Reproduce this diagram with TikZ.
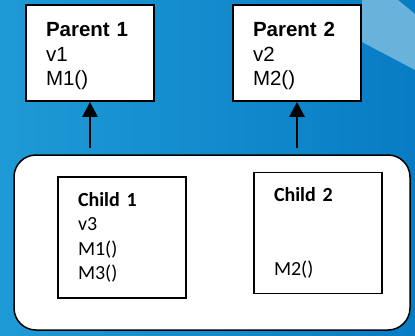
\documentclass[tikz,border=0pt]{standalone}
\usepackage{fontspec}
\newfontfamily\arialfont{Liberation Sans}
\newfontfamily\calibrifont{Carlito}
\usetikzlibrary{arrows.meta}
\definecolor{slideblue}{RGB}{30,154,214}
\definecolor{slidedark}{RGB}{8,124,196}
\definecolor{slidelight}{RGB}{104,178,220}
\tikzset{
  classbox/.style = {rectangle, draw=black, fill=white, align=left,
    minimum width=128pt, text width=88pt, inner xsep=20pt, inner ysep=0pt},
  parentbox/.style = {classbox, line width=1.8pt, minimum height=96pt,
    text height=20.7pt, font=\arialfont\fontsize{20.5}{24.5}\selectfont},% parent class
  childbox/.style = {classbox, line width=1.2pt, minimum height=121pt,
    font=\calibrifont\fontsize{20}{24.5}\selectfont},% child class
  groupbox/.style = {rectangle, draw=black, fill=white, rounded corners=22pt,
    line width=1.5pt, minimum width=396pt, minimum height=175pt},
  inherit/.style = {-{Triangle[length=15pt,width=15pt]}, line width=2.6pt,
    shorten <=6pt}
}
\begin{document}
\begin{tikzpicture}[x=1pt,y=-1pt]
% slide background
\fill[left color=slideblue, right color=slidedark] (0,0) rectangle (415,335);
\fill[slidelight] (362,0) -- (398,0) -- (415,14) -- (415,70) -- (362,42) -- cycle;

\node [parentbox] (parent1) at (90,53) {\textbf{Parent 1}\\v1\\M1()};
\node [parentbox] (parent2) at (297,53) {\textbf{Parent 2}\\v2\\M2()};

\node [groupbox] (group) at (212,242.5) {};
\node [childbox] (child1) at (122,237.5) {\textbf{Child 1}\\v3\\M1()\\M3()};
\node [childbox] (child2) at (318,233) {\textbf{Child 2}\\\mbox{}\\\mbox{}\\M2()};

\draw [inherit] (parent1.south |- group.north) -- (parent1.south);
\draw [inherit] (parent2.south |- group.north) -- (parent2.south);
\end{tikzpicture}
\end{document}
